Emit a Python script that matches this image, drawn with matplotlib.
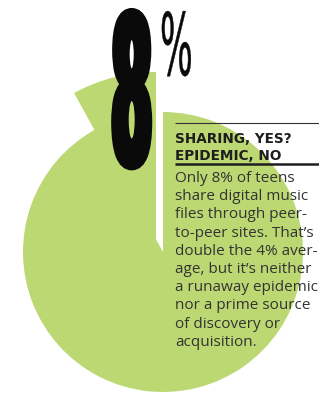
import matplotlib
matplotlib.use("Agg")
import matplotlib.pyplot as plt
from matplotlib import patheffects
from matplotlib.transforms import Affine2D

# data
shares = [8, 92]
labels = ["Share via P2P", "Other"]
big_number = "8"
heading = ["SHARING, YES?", "EPIDEMIC, NO"]
body = [
    "Only 8% of teens",
    "share digital music",
    "files through peer-",
    "to-peer sites. That\u2019s",
    "double the 4% aver-",
    "age, but it\u2019s neither",
    "a runaway epidemic",
    "nor a prime source",
    "of discovery or",
    "acquisition.",
]

green = "#bcd872"
ink = "#0a0a0a"
H = 395


class SqueezeStroke(patheffects.Stroke):
    # condensed look: narrow the glyphs and thicken them with a stroke
    def __init__(self, sx, **kw):
        super().__init__(**kw)
        self.sx = sx

    def draw_path(self, renderer, gc, tpath, affine, rgbFace=None):
        super().draw_path(renderer, gc, tpath,
                          Affine2D().scale(self.sx, 1) + affine, rgbFace)


fig = plt.figure(figsize=(3.19, 3.95), dpi=100)
ax = fig.add_axes([0, 0, 1, 1])

wedges, _ = ax.pie(shares, startangle=90, counterclock=True, colors=[green, green],
                   center=(163, H - 252), radius=140,
                   wedgeprops=dict(linewidth=0))
# pulled-out small slice, drawn a bit larger
wedges[0].set_center((156, H - 242))
wedges[0].set_radius(170)

ax.set_xlim(0, 319)
ax.set_ylim(0, H)
ax.axis("off")

ax.text(111, H - 164, big_number, fontsize=148, fontweight="bold", color=ink,
        family="DejaVu Sans", ha="left", va="baseline",
        path_effects=[SqueezeStroke(0.29, linewidth=5.0, foreground=ink)])
ax.text(160, H - 75, "%", fontsize=62, color=ink, family="DejaVu Sans",
        ha="left", va="baseline",
        path_effects=[SqueezeStroke(0.40, linewidth=0.3, foreground=ink)])

# heading block
ax.plot([175, 319], [H - 123, H - 123], color="#333333", lw=0.8, solid_capstyle="butt")
ax.text(175, H - 143, heading[0], fontsize=9.8, fontweight="bold", color="#1e1e1e",
        family="DejaVu Sans", ha="left", va="baseline")
ax.text(175, H - 160, heading[1], fontsize=9.8, fontweight="bold", color="#1e1e1e",
        family="DejaVu Sans", ha="left", va="baseline")
ax.plot([175, 319], [H - 164, H - 164], color="#1e1e1e", lw=1.8, solid_capstyle="butt")

for i, line in enumerate(body):
    ax.text(175, H - (182 + i * 18.2), line, fontsize=11, color="#333333",
            family="Open Sans", ha="left", va="baseline")

fig.savefig("out.png", dpi=100)
